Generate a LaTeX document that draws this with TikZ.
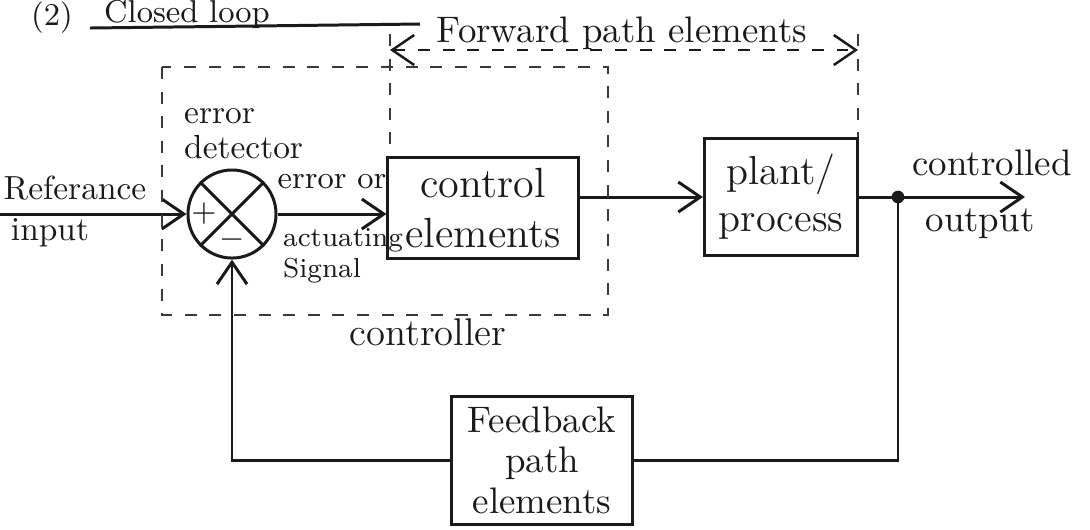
\documentclass[tikz,border=0pt]{standalone}
\usepackage{amsmath,amssymb}
\usepackage{tikz}
\usepackage{xcolor}
\usetikzlibrary{arrows.meta,positioning,calc}
\definecolor{ink}{HTML}{1A1A1A}
\definecolor{pencil}{HTML}{3A3A3A}
\tikzset{
  block/.style={draw=ink,line width=0.85pt,align=center,inner sep=3pt,
                font=\fontsize{12}{14}\selectfont,text=ink},
  lbl/.style={align=center,font=\fontsize{9.5}{10}\selectfont,text=ink,
              inner sep=1pt},
  sumjn/.style={circle,draw=ink,line width=0.85pt,minimum size=0.88cm,
                inner sep=0pt},
  wire/.style={line width=0.85pt,draw=ink},
  sigarr/.style={-{Straight Barb[length=2.2mm,width=3mm]},line width=0.85pt,
                 draw=ink},
  zone/.style={draw=pencil,line width=0.6pt,dash pattern=on 3.4pt off 3.6pt},
  zonearr/.style={{Straight Barb[length=2.2mm,width=3mm]}-{Straight Barb[length=2.2mm,width=3mm]},
                  draw=ink,line width=0.7pt,dash pattern=on 3.4pt off 3.6pt}
}

\begin{document}
\begin{tikzpicture}[x=0.01cm,y=-0.01cm]
    \path[use as bounding box] (0,0) rectangle (1090,529);
    \node[lbl,anchor=base,font=\small] (num) at (52,25) {(2)};
    \node[lbl,anchor=base west,font=\small] (title) at (100,22) {Closed loop};
    \coordinate (ulA) at (90,28);
    \coordinate (ulB) at (420,24);
    \draw[wire] (ulA) -- (ulB);

    \node[sumjn] (sum) at (232,214) {};
    \draw[wire] (sum.north west) -- (sum.south east);
    \draw[wire] (sum.north east) -- (sum.south west);
    \node[lbl] (plus) at (204,214) {$+$};
    \node[lbl] (minus) at (232,240) {$-$};

    \node[block,minimum width=1.9cm,minimum height=0.94cm] (ctrl) at (483,208)
      {control\\elements};
    \node[block,font=\fontsize{11.5}{13.5}\selectfont,minimum width=1.53cm,
      minimum height=1.17cm] (plant) at (781,197) {plant/\\process};
    \node[block,font=\fontsize{10.5}{11.5}\selectfont,minimum width=1.81cm,
      minimum height=1.2cm] (fb) at (542,460) {Feedback\\path\\elements};

    \coordinate (in) at (0,214);
    \coordinate (tap) at (898,197);
    \coordinate (out) at (1025,197);

    \draw[sigarr] (in) -- (sum.west);
    \draw[sigarr] (sum.east) -- (sum.east -| ctrl.west);
    \draw[sigarr] (ctrl.east |- plant.west) -- (plant.west);
    \draw[wire] (plant.east) -- (tap);
    \draw[sigarr] (tap) -- (out);
    \fill[ink] (tap) circle (1.8pt);
    \draw[wire] (tap) |- (fb.east);
    \draw[sigarr] (fb.west) -| (sum.south);

    \node[lbl] (reflbl) at (75,188) {Referance};
    \node[lbl] (inlbl) at (50,233) {input};
    \node[lbl,align=left,anchor=north west] (detlbl) at (180,104)
      {error\\detector};
    \node[lbl,font=\fontsize{9}{10}\selectfont] (errlbl) at (332,182)
      {error or};
    \node[lbl,align=left,anchor=north west,font=\fontsize{7.8}{9}\selectfont]
      (actlbl) at (279,224) {actuating\\Signal};
    \node[lbl,font=\fontsize{10.5}{12}\selectfont] (outlbl1) at (992,163)
      {controlled};
    \node[lbl,font=\fontsize{10.5}{12}\selectfont] (outlbl2) at (980,224)
      {output};
    \node[lbl,font=\fontsize{11}{13}\selectfont] (ctrllbl) at (428,332)
      {controller};

    % controller boundary
    \draw[zone] (162,67) rectangle (608,315);
    % forward path boundary
    \coordinate (fwdTL) at (390,34);
    \coordinate (fwdTR) at (858,34);
    \draw[zone] (fwdTL) -- (fwdTL |- ctrl.north);
    \draw[zone] (fwdTR) -- (fwdTR |- plant.north);
    \coordinate (fwdL) at (390,50);
    \coordinate (fwdR) at (858,50);
    \draw[zonearr] (fwdL) -- (fwdR);
    \node[lbl,font=\fontsize{10.5}{12}\selectfont] (fwdlbl) at (622,33)
      {Forward path elements};
  \end{tikzpicture}
\end{document}
